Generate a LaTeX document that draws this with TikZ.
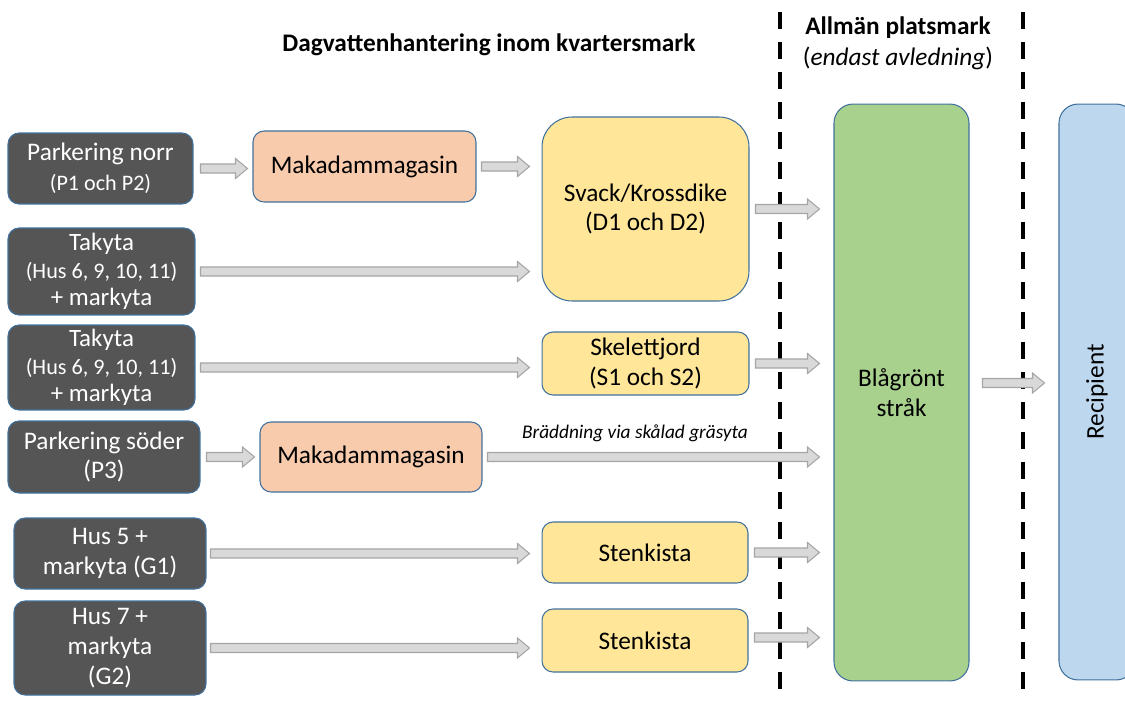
\documentclass[tikz,border=0pt]{standalone}
\usepackage{fontspec}
\setmainfont{Carlito}
\usetikzlibrary{calc}
\definecolor{darkfill}{HTML}{555555}
\definecolor{edgeblue}{HTML}{41719C}
\definecolor{orangefill}{HTML}{F8CBAD}
\definecolor{yellowfill}{HTML}{FFE699}
\definecolor{greenfill}{HTML}{A9D18E}
\definecolor{bluefill}{HTML}{BDD7EE}
\definecolor{arrfill}{HTML}{D9D9D9}
\definecolor{arredge}{HTML}{A5A5A5}
\newcommand{\mainsize}{\fontsize{14.4}{17}\selectfont}
\newcommand{\smallsize}{\fontsize{12.6}{15}\selectfont}

\begin{document}
\begin{tikzpicture}[x=0.02cm, y=-0.02cm,
    box/.style={draw=edgeblue, line width=0.6pt, rounded corners=0.22cm, align=center, inner sep=2pt, font=\mainsize},
    darkbox/.style={box, fill=darkfill, text=white},
    makbox/.style={box, fill=orangefill},
    ybox/.style={box, fill=yellowfill},
    head/.style={font=\fontsize{14.4}{16}\selectfont},
    sepline/.style={line width=0.07cm, dash pattern=on 0.34cm off 0.26cm},
    blockarr/.style={draw=arredge, fill=arrfill, line width=0.6pt,
      to path={let \p1=(\tikztostart), \p2=(\tikztotarget) in
        (\x1,\y1+0.09cm) -- (\x2-0.24cm,\y1+0.09cm) -- (\x2-0.24cm,\y1+0.2cm) -- (\x2,\y1)
        -- (\x2-0.24cm,\y1-0.2cm) -- (\x2-0.24cm,\y1-0.09cm) -- (\x1,\y1-0.09cm) -- cycle}}
  ]
\useasboundingbox (0,0) rectangle (1125,700);
\clip (0,0) rectangle (1125,700);

\node[head, font=\fontsize{14.4}{16}\selectfont\bfseries] (kvarter) at (489,45) {Dagvattenhantering inom kvartersmark};
\node[head, font=\fontsize{14.4}{16}\selectfont\bfseries] (allman) at (898,28) {Allmän platsmark};
\node[head] (avled) at (898,58) {(\textit{endast avledning})};

\draw[sepline] (780,12) -- (780,700);
\draw[sepline] (1023,12) -- (1023,700);

\node[darkbox, minimum width=3.7cm, minimum height=1.42cm] (pnorr) at (100.5,168.5) {Parkering norr\\{\smallsize (P1 och P2)}};
\node[darkbox, minimum width=3.74cm, minimum height=1.74cm, font=\fontsize{14.2}{15.5}\selectfont] (tak1) at (101.5,271.5) {Takyta\\{\smallsize (Hus 6, 9, 10, 11)}\\+ markyta};
\node[darkbox, minimum width=3.74cm, minimum height=1.7cm, font=\fontsize{14.2}{15.5}\selectfont] (tak2) at (101.5,367.5) {Takyta\\{\smallsize (Hus 6, 9, 10, 11)}\\+ markyta};
\node[darkbox, minimum width=3.84cm, minimum height=1.44cm] (psoder) at (104,457) {Parkering söder\\(P3)};
\node[darkbox, minimum width=3.84cm, minimum height=1.42cm] (hus5) at (110,553.5) {Hus 5 +\\markyta (G1)};
\node[darkbox, minimum width=3.84cm, minimum height=1.88cm] (hus7) at (110,648) {Hus 7 +\\markyta\\(G2)};

\node[makbox, minimum width=4.46cm, minimum height=1.42cm] (mak1) at (364.5,166.5) {Makadammagasin};
\node[makbox, minimum width=4.44cm, minimum height=1.4cm] (mak2) at (371,457) {Makadammagasin};

\node[ybox, rounded corners=0.6cm, minimum width=4.14cm, minimum height=3.68cm] (svack) at (645.5,209) {Svack/Krossdike\\(D1 och D2)};
\node[ybox, minimum width=4.14cm, minimum height=1.26cm] (skel) at (645.5,363.5) {Skelettjord\\(S1 och S2)};
\node[ybox, minimum width=4.12cm, minimum height=1.22cm] (sten1) at (645,552.5) {Stenkista};
\node[ybox, minimum width=4.12cm, minimum height=1.26cm] (sten2) at (645,640.5) {Stenkista};

\node[box, fill=greenfill, rounded corners=0.38cm, minimum width=2.7cm, minimum height=11.54cm] (strak) at (901.5,392.5) {Blågrönt\\stråk};
\node[box, fill=bluefill, rounded corners=0.38cm, minimum width=1.52cm, minimum height=11.52cm] (rec) at (1097,392) {};
\node[rotate=90, font=\mainsize] (reclbl) at (rec) {Recipient};

\draw[blockarr] ([xshift=0.14cm]pnorr.east) to ([xshift=-0.1cm]mak1.west);
\draw[blockarr] ([xshift=0.1cm]mak1.east) to ([xshift=-0.24cm]svack.west);
\draw[blockarr] ([xshift=0.1cm]tak1.east) to ([xshift=-0.24cm]svack.west);
\draw[blockarr] ([xshift=0.1cm]tak2.east) to ([xshift=-0.24cm]skel.west);
\draw[blockarr] ([xshift=0.12cm]psoder.east) to ([xshift=-0.1cm]mak2.west);
\draw[blockarr] ([xshift=0.1cm]mak2.east) to ([xshift=-0.28cm]strak.west);
\draw[blockarr] ([xshift=0.08cm]hus5.east) to ([xshift=-0.24cm]sten1.west);
\draw[blockarr] ([xshift=0.08cm]hus7.east) to ([xshift=-0.24cm]sten2.west);
\draw[blockarr] ([xshift=0.12cm]svack.east) to ([xshift=-0.28cm]strak.west);
\draw[blockarr] ([xshift=0.12cm]skel.east) to ([xshift=-0.28cm]strak.west);
\draw[blockarr] ([xshift=0.12cm]sten1.east) to ([xshift=-0.28cm]strak.west);
\draw[blockarr] ([xshift=0.12cm, yshift=0.06cm]sten2.east) to ([xshift=-0.28cm]strak.west);
\draw[blockarr] ([xshift=0.26cm, yshift=0.19cm]strak.east) to ([xshift=-0.28cm]rec.west);

\node[font=\fontsize{11}{13}\selectfont\itshape] (bredd) at (635,433) {Bräddning via skålad gräsyta};
\end{tikzpicture}
\end{document}
